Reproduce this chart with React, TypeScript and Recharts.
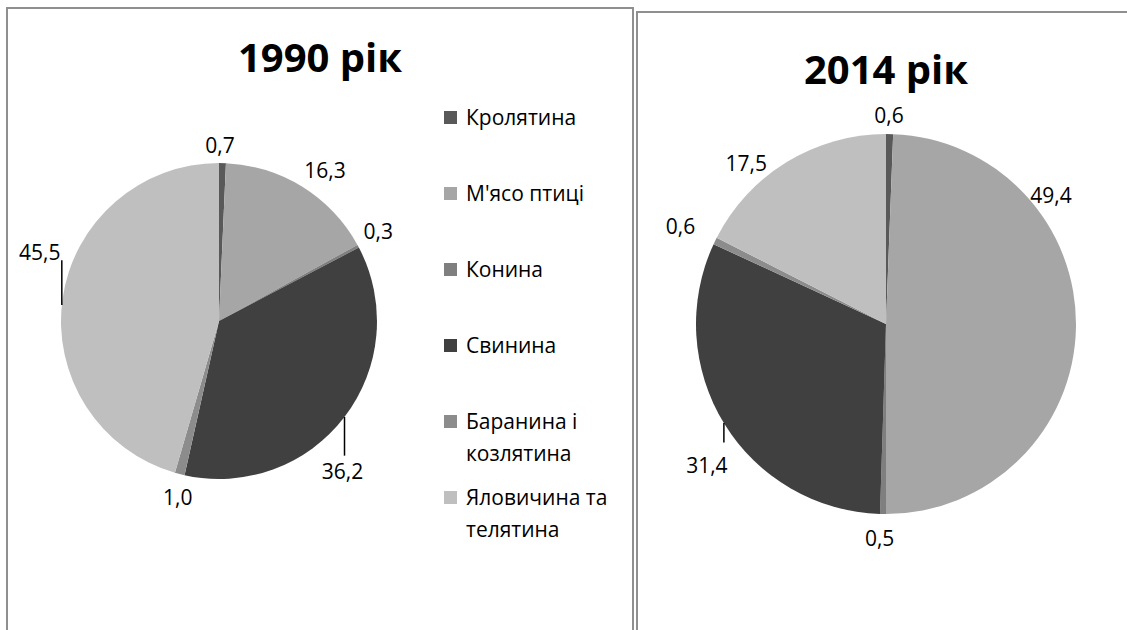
import { PieChart, Pie, Cell, Legend } from "recharts";

const categories = ["Кролятина", "М'ясо птиці", "Конина", "Свинина", "Баранина і козлятина", "Яловичина та телятина"];
const values1990 = [0.7, 16.3, 0.3, 36.2, 1.0, 45.5];
const values2014 = [0.6, 49.4, 0.5, 31.4, 0.6, 17.5];
const titles = ["1990 рік", "2014 рік"];

const colors = ["#595959", "#a6a6a6", "#7f7f7f", "#404040", "#8c8c8c", "#bfbfbf"];

// label nudges (px) away from the default spot just outside each slice
const nudge1990 = [[-3, 6], [10, 4], [-1, -4], [-21, 39], [4, 0], [1, -43]];
const nudge2014 = [[-1, 5], [-49, -133], [-3, 0], [3, 29], [-13, -4], [-28, 21]];
// leader lines: [x from label, y from label where the line starts], null = none
const leaders1990 = [null, null, null, [2, -15], null, [22, 8]];
const leaders2014 = [null, null, null, [17, -23], null, null];

const FONT = "'Open Sans', 'DejaVu Sans', sans-serif";
const fmt = (v: number) => v.toFixed(1).replace(".", ",");

const data1990 = categories.map((name, i) => ({ name, value: values1990[i] }));
const data2014 = categories.map((name, i) => ({ name, value: values2014[i] }));

function makeLabel(nudges: number[][], leaders: (number[] | null)[]) {
  return (p: any) => {
    const RAD = Math.PI / 180;
    const R = p.outerRadius + 24;
    const x = p.cx + R * Math.cos(-p.midAngle * RAD) + nudges[p.index][0];
    const y = p.cy + R * Math.sin(-p.midAngle * RAD) + nudges[p.index][1];
    const lead = leaders[p.index];
    let line = null;
    if (lead) {
      const lx = x + lead[0];
      const ly = y + lead[1];
      const h = Math.sqrt(Math.max(0, p.outerRadius ** 2 - (lx - p.cx) ** 2));
      const ay = ly > p.cy ? p.cy + h : p.cy - h;
      line = <line x1={lx} y1={ly} x2={lx} y2={ay} stroke="#000" strokeWidth={1.5} />;
    }
    const v = p.value ?? p.payload?.value;
    return (
      <g key={"lbl" + p.index}>
        {line}
        <text x={x} y={y} textAnchor="middle" dominantBaseline="central" fontSize={21} fontFamily={FONT} fill="#000">
          {fmt(v)}
        </text>
      </g>
    );
  };
}

function LegendBox(props: any) {
  // keep the slice order, not the alphabetical one
  const items = [...(props.payload || [])].sort(
    (a: any, b: any) => categories.indexOf(a.value) - categories.indexOf(b.value)
  );
  return (
    <div style={{ fontFamily: FONT, fontSize: 21, color: "#000" }}>
      {items.map((it: any, i: number) => (
        <div key={i} style={{ display: "flex", height: 76, alignItems: "flex-start" }}>
          <div style={{ width: 13, height: 13, background: it.color, marginTop: 10, marginRight: 9, flex: "none" }} />
          <div style={{ width: 160, lineHeight: "32px" }}>{it.value}</div>
        </div>
      ))}
    </div>
  );
}

const titleStyle = (cx: number, cy: number): React.CSSProperties => ({
  position: "absolute",
  left: cx - 150,
  top: cy - 25,
  width: 300,
  height: 50,
  lineHeight: "50px",
  textAlign: "center",
  fontFamily: FONT,
  fontWeight: 700,
  fontSize: 40,
  color: "#000",
});

export default function App() {
  return (
    <div style={{ position: "absolute", left: 0, top: 0, width: 1127, height: 630, overflow: "hidden", background: "#fff" }}>
      <div style={{ position: "absolute", left: 6, top: 7, width: 628, height: 700, border: "2px solid #8f8f8f", boxSizing: "border-box" }} />
      <div style={{ position: "absolute", left: 636, top: 11, width: 600, height: 700, border: "2px solid #8f8f8f", boxSizing: "border-box" }} />

      <div style={{ position: "absolute", left: 0, top: 0 }}>
        <PieChart width={634} height={630} margin={{ top: 0, right: 0, bottom: 0, left: 0 }}>
          <Pie
            data={data1990}
            dataKey="value"
            nameKey="name"
            cx={219}
            cy={321}
            outerRadius={158}
            startAngle={90}
            endAngle={-270}
            stroke="none"
            labelLine={false}
            label={makeLabel(nudge1990, leaders1990)}
            isAnimationActive={false}
          >
            {data1990.map((d, i) => (
              <Cell key={d.name} fill={colors[i]} />
            ))}
          </Pie>
          <Legend
            layout="vertical"
            align="right"
            verticalAlign="top"
            content={LegendBox}
            wrapperStyle={{ left: 444, top: 101, width: 185 }}
          />
        </PieChart>
      </div>

      <div style={{ position: "absolute", left: 635, top: 0 }}>
        <PieChart width={492} height={630} margin={{ top: 0, right: 0, bottom: 0, left: 0 }}>
          <Pie
            data={data2014}
            dataKey="value"
            nameKey="name"
            cx={251}
            cy={324}
            outerRadius={190}
            startAngle={90}
            endAngle={-270}
            stroke="none"
            labelLine={false}
            label={makeLabel(nudge2014, leaders2014)}
            isAnimationActive={false}
          >
            {data2014.map((d, i) => (
              <Cell key={d.name} fill={colors[i]} />
            ))}
          </Pie>
        </PieChart>
      </div>

      <div style={titleStyle(320, 57)}>{titles[0]}</div>
      <div style={titleStyle(886, 69)}>{titles[1]}</div>
    </div>
  );
}
